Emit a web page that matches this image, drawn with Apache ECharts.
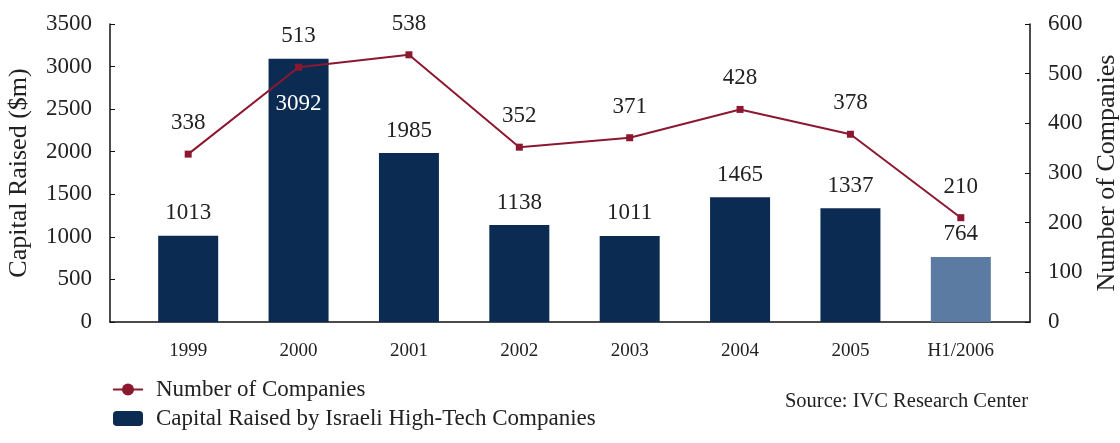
<!DOCTYPE html>
<html>
<head>
<meta charset="utf-8">
<script src="https://cdn.jsdelivr.net/npm/echarts@6/dist/echarts.min.js"></script>
<style>html,body{margin:0;padding:0;background:#fff}#c{width:1120px;height:443px}</style>
</head>
<body>
<div id="c"></div>
<script>
const categories = ['1999','2000','2001','2002','2003','2004','2005','H1/2006'];
const capitalRaised = [1013, 3092, 1985, 1138, 1011, 1465, 1337, 764];
const numCompanies = [338, 513, 538, 352, 371, 428, 378, 210];

const FONT = 'Liberation Serif';
const NAVY = '#0c2b53';
const LIGHT = '#5b7ba2';
const RED = '#8c1830';
const TXT = '#222';

const chart = echarts.init(document.getElementById('c'));
const barData = capitalRaised.map((v, i) => {
  const d = { value: v };
  if (i === categories.length - 1) d.itemStyle = { color: LIGHT };
  if (i === 1) d.label = { position: 'insideTop', distance: 34, color: '#fff' };
  return d;
});
const lineData = numCompanies.map(v => ({ value: v, symbol: 'rect', symbolSize: 7 }));

const axisLineStyle = { show: true, onZero: false, lineStyle: { color: '#111', width: 1.5 } };

chart.setOption({
  animation: false,
  textStyle: { fontFamily: FONT },
  grid: [
    { left: 110, right: 90, top: 24, bottom: 121, containLabel: false, outerBoundsMode: 'none' },
    { left: 133, right: 104, top: 24, bottom: 121, containLabel: false, outerBoundsMode: 'none' }
  ],
  title: {
    text: 'Source: IVC Research Center',
    right: 87, top: 386,
    textStyle: { fontFamily: FONT, fontSize: 20.5, fontWeight: 'normal', color: TXT }
  },
  legend: {
    orient: 'vertical', left: 107, top: 373,
    itemWidth: 30, itemHeight: 15, itemGap: 6,
    textStyle: { fontFamily: FONT, fontSize: 23, color: TXT, padding: [0, 0, 0, 8] },
    data: ['Number of Companies', 'Capital Raised by Israeli High-Tech Companies']
  },
  xAxis: [
    {
      gridIndex: 0, type: 'value', min: 0, max: 1,
      splitLine: { show: false }, axisTick: { show: false }, axisLabel: { show: false },
      axisLine: axisLineStyle
    },
    {
      gridIndex: 1, type: 'category', data: categories,
      axisLine: { show: false }, axisTick: { show: false },
      axisLabel: { margin: 20, fontSize: 19, color: TXT, fontFamily: FONT, interval: 0 }
    }
  ],
  yAxis: [
    {
      gridIndex: 0, type: 'value', min: 0, max: 3500, interval: 500,
      name: 'Capital Raised ($m)', nameLocation: 'middle', nameGap: 78,
      nameTextStyle: { fontFamily: FONT, fontSize: 26, color: TXT },
      splitLine: { show: false },
      axisLine: axisLineStyle,
      axisTick: { show: true, inside: true, length: 5, lineStyle: { color: '#111' } },
      axisLabel: { margin: 18, fontSize: 23, color: TXT, fontFamily: FONT, formatter: v => String(v) }
    },
    {
      gridIndex: 0, type: 'value', min: 0, max: 600, interval: 100,
      name: 'Number of Companies', nameLocation: 'middle', nameGap: 64,
      nameTextStyle: { fontFamily: FONT, fontSize: 26, color: TXT },
      splitLine: { show: false },
      axisLine: axisLineStyle,
      axisTick: { show: true, inside: true, length: 5, lineStyle: { color: '#111' } },
      axisLabel: { margin: 18, fontSize: 23, color: TXT, fontFamily: FONT, formatter: v => String(v) }
    },
    {
      gridIndex: 1, type: 'value', min: 0, max: 3500, show: false
    },
    {
      gridIndex: 1, type: 'value', min: 0, max: 600, show: false
    }
  ],
  series: [
    {
      name: 'Capital Raised by Israeli High-Tech Companies',
      type: 'bar', xAxisIndex: 1, yAxisIndex: 2, barWidth: 60,
      itemStyle: { color: NAVY },
      label: { show: true, position: 'top', distance: 11, fontSize: 23, color: TXT, fontFamily: FONT },
      data: barData,
      z: 1
    },
    {
      name: 'Number of Companies',
      type: 'line', xAxisIndex: 1, yAxisIndex: 3,
      symbol: 'circle', symbolSize: 7,
      lineStyle: { color: RED, width: 2 },
      itemStyle: { color: RED },
      label: { show: true, position: 'top', distance: 16, fontSize: 23, color: TXT, fontFamily: FONT },
      data: lineData,
      z: 3
    }
  ]
});
</script>
</body>
</html>
